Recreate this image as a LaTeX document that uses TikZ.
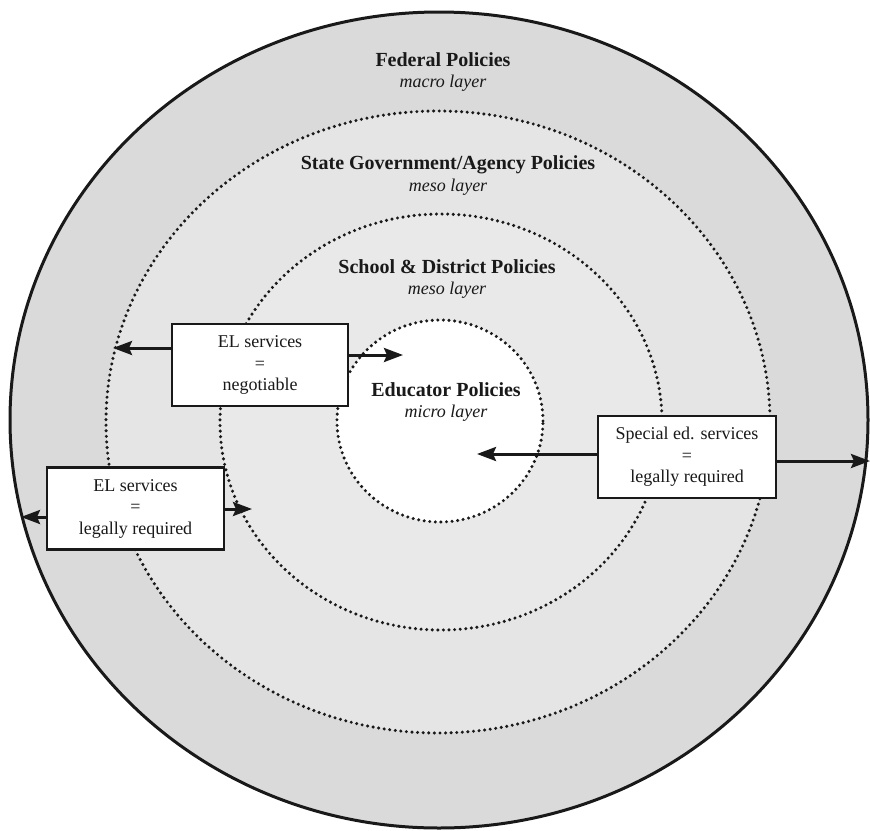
\documentclass[tikz,border=0pt]{standalone}
\usepackage{fontspec}
\setmainfont{Liberation Serif}
\usepackage{xcolor}
\usepackage{tikz}
\usetikzlibrary{arrows.meta, calc}

\definecolor{ringfed}{gray}{0.855}
\definecolor{ringstate}{gray}{0.9}
\definecolor{ringschool}{gray}{0.915}
\definecolor{inktext}{gray}{0.1}

\begin{document}
\begin{tikzpicture}[x=1pt, y=-1pt, >={Stealth[length=19pt, width=14pt, inset=3pt]},
    layer/.style={draw=inktext, line width=3.4pt, dash pattern=on 0pt off 5.6pt, line cap=round},
    title/.style={font=\fontsize{20}{24}\selectfont\bfseries, text=inktext},
    sub/.style={font=\fontsize{18}{21}\selectfont\itshape, text=inktext},
    service/.style={draw=inktext, line width=2.8pt, fill=white, minimum width=176pt, minimum height=82pt,
        inner sep=0pt, align=center, font=\fontsize{18}{21.5}\selectfont, text=inktext},
    link/.style={->, draw=inktext, line width=3pt}]
    \useasboundingbox (0,0) rectangle (870,830);

    % layers, outside in
    \fill[ringfed] (439,420) ellipse [x radius=429pt, y radius=408pt];
    \draw[inktext, line width=3pt] (439,420) ellipse [x radius=429pt, y radius=408pt];
    \fill[ringstate] (438,422) ellipse [x radius=332pt, y radius=311pt];
    \draw[layer] (438,422) ellipse [x radius=332pt, y radius=311pt];
    \fill[ringschool] (441,422) ellipse [x radius=221pt, y radius=208pt];
    \draw[layer] (441,422) ellipse [x radius=221pt, y radius=208pt];
    \fill[white] (440,421) ellipse [x radius=103pt, y radius=101pt];
    \draw[layer] (440,421) ellipse [x radius=103pt, y radius=101pt];

    % layer labels
    \node[title] (fed) at (443,60) {Federal Policies};
    \node[sub] (fedsub) at (443,83) {macro layer};
    \node[title] (state) at (448,165) {State Government/Agency Policies};
    \node[sub] (statesub) at (448,187) {meso layer};
    \node[title] (school) at (447,267) {School \& District Policies};
    \node[sub] (schoolsub) at (447,290) {meso layer};
    \node[title] (educ) at (446,390) {Educator Policies};
    \node[sub] (educsub) at (446,413) {micro layer};

    % services
    \node[service] (elneg) at (260,365) {EL services\\=\\negotiable};
    \node[service, minimum width=177pt] (ellegal) at (135.5,508.5) {EL services\\=\\legally required};
    \node[service, minimum width=178pt] (sped) at (687,457) {Special ed. services\\=\\legally required};

    \coordinate (elneg-l) at (113,348);
    \coordinate (elneg-r) at (403,355);
    \coordinate (ellegal-l) at (21,517);
    \coordinate (ellegal-r) at (252,509);
    \coordinate (sped-l) at (477,454);
    \coordinate (sped-r) at (870,461);

    \draw[link] (elneg.west |- elneg-l) -- (elneg-l);
    \draw[link] (elneg.east |- elneg-r) -- (elneg-r);
    \draw[link] (ellegal.west |- ellegal-l) -- (ellegal-l);
    \draw[link] (ellegal.east |- ellegal-r) -- (ellegal-r);
    \draw[link] (sped.west |- sped-l) -- (sped-l);
    \draw[link] (sped.east |- sped-r) -- (sped-r);
\end{tikzpicture}
\end{document}
